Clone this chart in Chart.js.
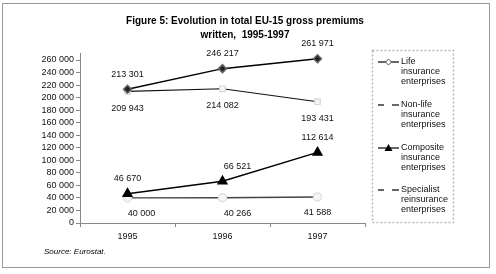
<!DOCTYPE html>
<html>
<head>
<meta charset="utf-8">
<script src="https://cdn.jsdelivr.net/npm/chart.js@4"></script>
<style>
  html, body { margin: 0; padding: 0; background: #fff; }
  #wrap { width: 496px; height: 274px; position: relative; }
</style>
</head>
<body>
<div id="wrap"><canvas id="chart" width="496" height="274"></canvas></div>
<script>
const years = ['1995', '1996', '1997'];
const lifeValues = [213301, 246217, 261971];
const nonLifeValues = [209943, 214082, 193431];
const compositeValues = [46670, 66521, 112614];
const specialistValues = [40000, 40266, 41588];
const seriesNames = [
    ['Life', 'insurance', 'enterprises'],
    ['Non-life', 'insurance', 'enterprises'],
    ['Composite', 'insurance', 'enterprises'],
    ['Specialist', 'reinsurance', 'enterprises']
];
const titleLines = ['Figure 5: Evolution in total EU-15 gross premiums', 'written,  1995-1997'];
const sourceText = 'Source: Eurostat.';

const FONT = '"Liberation Sans", Arial, sans-serif';

function fmt(v) {
    return String(v).replace(/\B(?=(\d{3})+(?!\d))/g, ' ');
}

// label placement per series: above / below, small horizontal nudges per point
const labelStyle = [
    { dy: -15, dx: [0, 0, 0] },
    { dy: 17, dx: [0, 0, 0] },
    { dy: -15, dx: [0, 15, 0] },
    { dy: 16, dx: [14, 15, 0] }
];

const dataLabels = {
    id: 'dataLabels',
    afterDatasetsDraw(chart) {
        const ctx = chart.ctx;
        ctx.save();
        ctx.font = '9px ' + FONT;
        ctx.fillStyle = '#111';
        ctx.textAlign = 'center';
        ctx.textBaseline = 'middle';
        chart.data.datasets.forEach((ds, i) => {
            const meta = chart.getDatasetMeta(i);
            meta.data.forEach((pt, j) => {
                const s = labelStyle[i];
                ctx.fillText(fmt(ds.data[j]), pt.x + s.dx[j], pt.y + s.dy);
            });
        });
        ctx.restore();
    }
};

const frame = {
    id: 'frame',
    beforeDraw(chart) {
        const ctx = chart.ctx;
        ctx.save();
        ctx.strokeStyle = '#9a9a9a';
        ctx.lineWidth = 1;
        ctx.strokeRect(2.5, 3.5, 487, 264);
        // title
        ctx.fillStyle = '#000';
        ctx.font = 'bold 10px ' + FONT;
        ctx.textAlign = 'center';
        ctx.textBaseline = 'middle';
        ctx.fillText(titleLines[0], 245, 21);
        ctx.fillText(titleLines[1], 245, 35);
        // source
        ctx.font = 'italic 8px ' + FONT;
        ctx.textAlign = 'left';
        ctx.fillText(sourceText, 44, 252);
        // short extension of the value axis above the top tick
        const y = chart.scales.y;
        ctx.strokeStyle = '#888';
        ctx.beginPath();
        ctx.moveTo(y.right + 0.5, y.top);
        ctx.lineTo(y.right + 0.5, y.top - 7);
        ctx.stroke();
        ctx.restore();
    },
    afterDraw(chart) {
        const ctx = chart.ctx;
        ctx.save();
        // legend box
        ctx.strokeStyle = '#b5b5b5';
        ctx.setLineDash([2, 2]);
        ctx.strokeRect(372.5, 50.5, 81, 172);
        ctx.setLineDash([]);
        const tops = [62, 105, 148, 190];
        chart.data.datasets.forEach((ds, i) => {
            const y = tops[i];
            ctx.strokeStyle = '#000';
            ctx.lineWidth = 1.2;
            ctx.beginPath();
            ctx.moveTo(378, y);
            ctx.lineTo(399, y);
            ctx.stroke();
            // marker
            const m = ds.pointStyle;
            ctx.lineWidth = 1;
            if (m === 'rectRot') {
                ctx.fillStyle = '#fff';
                ctx.strokeStyle = '#555';
                ctx.beginPath();
                ctx.moveTo(388.5, y - 3); ctx.lineTo(391.5, y); ctx.lineTo(388.5, y + 3); ctx.lineTo(385.5, y);
                ctx.closePath(); ctx.fill(); ctx.stroke();
            } else if (m === 'triangle') {
                ctx.fillStyle = '#000';
                ctx.beginPath();
                ctx.moveTo(388.5, y - 4); ctx.lineTo(392.5, y + 3); ctx.lineTo(384.5, y + 3);
                ctx.closePath(); ctx.fill();
            } else {
                ctx.fillStyle = '#fff';
                ctx.fillRect(384, y - 3, 8, 6);
            }
            ctx.fillStyle = '#111';
            ctx.font = '9px ' + FONT;
            ctx.textAlign = 'left';
            ctx.textBaseline = 'middle';
            seriesNames[i].forEach((line, k) => {
                ctx.fillText(line, 401, y + k * 10);
            });
        });
        ctx.restore();
    }
};

new Chart(document.getElementById('chart'), {
    type: 'line',
    data: {
        labels: years,
        datasets: [
            {
                label: seriesNames[0].join(' '),
                data: lifeValues,
                borderColor: '#000',
                borderWidth: 1.5,
                pointStyle: 'rectRot',
                pointRadius: 4,
                pointBackgroundColor: '#222',
                pointBorderColor: '#666',
                tension: 0,
                clip: false
            },
            {
                label: seriesNames[1].join(' '),
                data: nonLifeValues,
                borderColor: '#111',
                borderWidth: 1.1,
                pointStyle: 'rect',
                pointRadius: 4,
                pointBackgroundColor: '#f4f4f4',
                pointBorderColor: '#d8d8d8',
                tension: 0,
                clip: false
            },
            {
                label: seriesNames[2].join(' '),
                data: compositeValues,
                borderColor: '#000',
                borderWidth: 1.5,
                pointStyle: 'triangle',
                pointRadius: 5,
                pointBackgroundColor: '#000',
                pointBorderColor: '#000',
                tension: 0,
                clip: false
            },
            {
                label: seriesNames[3].join(' '),
                data: specialistValues,
                borderColor: '#444',
                borderWidth: 1.4,
                pointStyle: 'circle',
                pointRadius: 4,
                pointBackgroundColor: '#f6f6f6',
                pointBorderColor: '#e0e0e0',
                tension: 0,
                clip: false
            }
        ]
    },
    options: {
        responsive: false,
        animation: false,
        layout: { padding: { top: 60, right: 131, bottom: 31, left: 0 } },
        plugins: {
            legend: { display: false },
            tooltip: { enabled: false },
            title: { display: false }
        },
        scales: {
            x: {
                offset: true,
                grid: { offset: true, drawOnChartArea: false, tickLength: 4, color: '#888' },
                border: { color: '#888' },
                ticks: { color: '#111', font: { family: FONT, size: 9 }, padding: 4 },
                afterFit(scale) { scale.height = 20; }
            },
            y: {
                min: 0,
                max: 260000,
                ticks: {
                    stepSize: 20000,
                    autoSkip: false,
                    color: '#111',
                    font: { family: FONT, size: 9 },
                    padding: 2,
                    callback: v => fmt(v)
                },
                grid: { drawOnChartArea: false, tickLength: 4, color: '#888' },
                border: { color: '#888' },
                afterFit(scale) { scale.width = 80; }
            }
        }
    },
    plugins: [frame, dataLabels]
});
</script>
</body>
</html>
